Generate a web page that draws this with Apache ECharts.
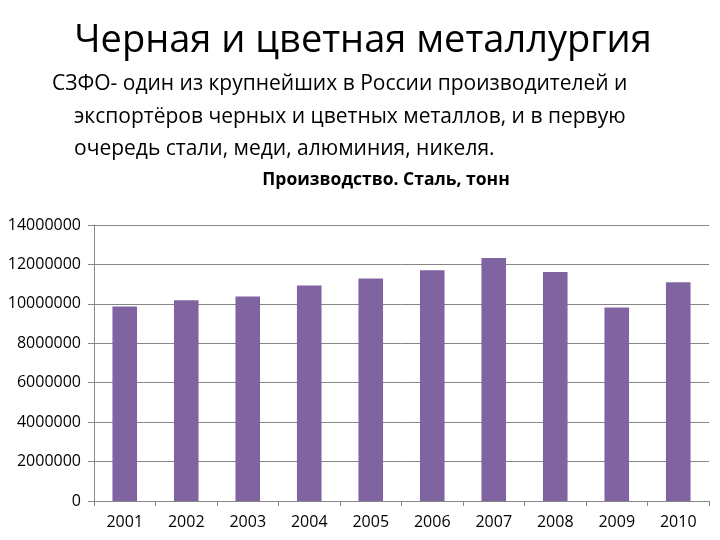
<!DOCTYPE html>
<html><head><meta charset="utf-8">
<script src="https://cdn.jsdelivr.net/npm/echarts@6/dist/echarts.min.js"></script>
<style>html,body{margin:0;padding:0;background:#fff}#c{width:720px;height:540px}</style>
</head><body><div id="c"></div>
<script>
const years = ['2001','2002','2003','2004','2005','2006','2007','2008','2009','2010'];
const steel = [9860000,10180000,10370000,10930000,11290000,11710000,12330000,11610000,9810000,11100000];
const yTicks = {min:0, max:14000000, interval:2000000};
const FONT = "'Open Sans', 'Noto Sans', sans-serif";
const chart = echarts.init(document.getElementById('c'));
chart.setOption({
  backgroundColor:'#fff',
  animation:false,
  title:[
    {text:'Черная и цветная металлургия', left:358, top:17, textAlign:'center',
     textStyle:{fontFamily:FONT, fontSize:38, fontWeight:'normal', color:'#000'}},
    {text:'СЗФО- один из крупнейших в России производителей и', left:47, top:69,
     textStyle:{fontFamily:FONT, fontSize:21, fontWeight:'normal', color:'#000'}},
    {text:'экспортёров черных и цветных металлов, и в первую', left:69, top:102,
     textStyle:{fontFamily:FONT, fontSize:21, fontWeight:'normal', color:'#000'}},
    {text:'очередь стали, меди, алюминия, никеля.', left:69, top:134,
     textStyle:{fontFamily:FONT, fontSize:21, fontWeight:'normal', color:'#000'}},
    {text:'Производство. Сталь, тонн', left:381, top:166, textAlign:'center',
     textStyle:{fontFamily:FONT, fontSize:17.5, fontWeight:'bold', color:'#000'}}
  ],
  grid:{left:94, right:11, top:225, bottom:39},
  xAxis:{type:'category', data:years,
    axisLine:{show:true, lineStyle:{color:'#868686', width:1}},
    axisTick:{show:true, alignWithLabel:false, length:5, lineStyle:{color:'#868686'}},
    axisLabel:{color:'#000', fontFamily:FONT, fontSize:16, margin:13},
    splitLine:{show:false}},
  yAxis:{type:'value', min:yTicks.min, max:yTicks.max, interval:yTicks.interval,
    axisLine:{show:true, lineStyle:{color:'#868686', width:1}},
    axisTick:{show:true, length:6, lineStyle:{color:'#868686'}},
    axisLabel:{color:'#000', fontFamily:FONT, fontSize:16, margin:13,
      formatter: v => String(v)},
    splitLine:{show:true, lineStyle:{color:'#868686', width:1}}},
  series:[{type:'bar', data:steel, barWidth:'40%', itemStyle:{color:'#8064A2'}}]
});
</script></body></html>
